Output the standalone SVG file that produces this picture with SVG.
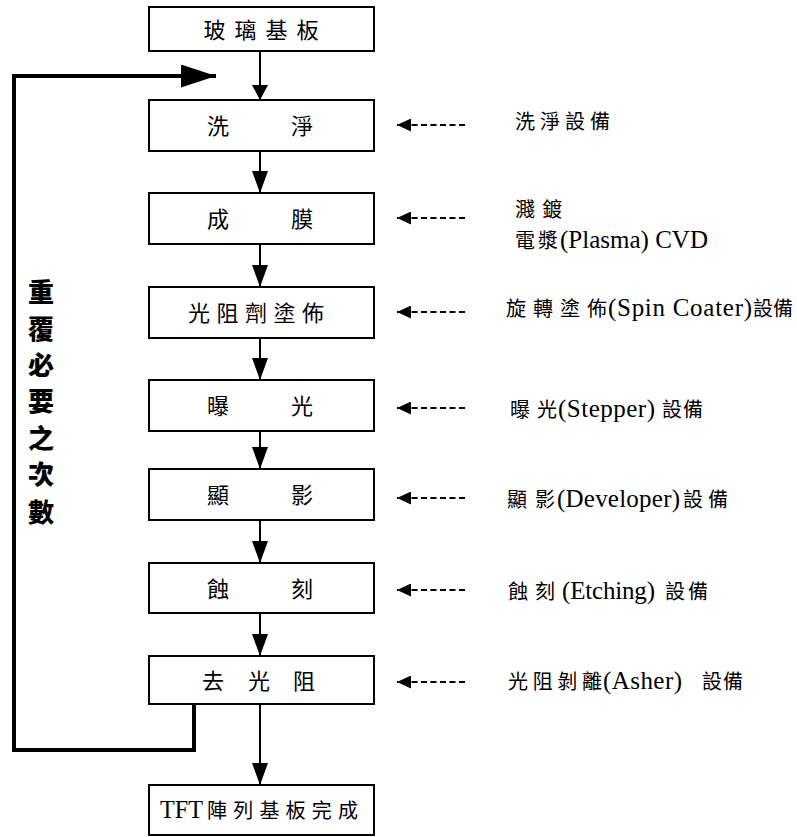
<svg xmlns="http://www.w3.org/2000/svg" width="797" height="837" viewBox="0 0 797 837">
<style>
.box{fill:#fff;stroke:#000;stroke-width:2}
.lbl{font-family:"Noto Sans CJK TC",sans-serif;font-size:22px;fill:#000;text-anchor:middle}
.lat{font-family:"Liberation Serif","Times New Roman",Tinos,"DejaVu Serif",serif;font-size:25px;fill:#000}
.cjk{font-family:"Noto Sans CJK TC",sans-serif;font-size:20px;fill:#000}
.flow{stroke:#000;stroke-width:2;fill:none}
.dash{stroke:#000;stroke-width:2;stroke-dasharray:6 3.5;fill:none}
.loop{stroke:#000;stroke-width:4;fill:none;stroke-linejoin:miter}
.side{font-family:"Noto Sans CJK TC",sans-serif;font-size:26px;font-weight:900;fill:#000;text-anchor:middle;dominant-baseline:central}
</style>
<defs>
<marker id="ah" viewBox="0 0 22 16" refX="22" refY="8" markerWidth="22" markerHeight="16" markerUnits="userSpaceOnUse" orient="auto"><path d="M0,0 L22,8 L0,16 z" fill="#000"/></marker>
<marker id="ah1" viewBox="0 0 15 16" refX="15" refY="8" markerWidth="15" markerHeight="16" markerUnits="userSpaceOnUse" orient="auto"><path d="M0,0 L15,8 L0,16 z" fill="#000"/></marker>
<marker id="dh" viewBox="0 0 14 13" refX="14" refY="6.5" markerWidth="14" markerHeight="13" markerUnits="userSpaceOnUse" orient="auto"><path d="M0,0 L14,6.5 L0,13 z" fill="#000"/></marker>
<marker id="lh" viewBox="0 0 35 23" refX="35" refY="11.5" markerWidth="35" markerHeight="23" markerUnits="userSpaceOnUse" orient="auto"><path d="M0,0 L35,11.5 L0,23 z" fill="#000"/></marker>
</defs>

<g id="connectors">
<line class="flow" x1="260" y1="51" x2="260" y2="100" marker-end="url(#ah1)"/>
<line class="flow" x1="260" y1="151" x2="260" y2="193" marker-end="url(#ah)"/>
<line class="flow" x1="260" y1="244" x2="260" y2="287" marker-end="url(#ah)"/>
<line class="flow" x1="260" y1="338" x2="260" y2="380" marker-end="url(#ah)"/>
<line class="flow" x1="260" y1="431" x2="260" y2="469" marker-end="url(#ah)"/>
<line class="flow" x1="260" y1="520" x2="260" y2="563" marker-end="url(#ah)"/>
<line class="flow" x1="260" y1="613" x2="260" y2="656" marker-end="url(#ah)"/>
<line class="flow" x1="260" y1="704" x2="260" y2="785" marker-end="url(#ah)"/>
<path class="loop" d="M194,704 L194,750 L14,750 L14,76 L216,76" marker-end="url(#lh)"/>
<line class="dash" x1="465" y1="125" x2="397" y2="125" marker-end="url(#dh)"/>
<line class="dash" x1="465" y1="218" x2="397" y2="218" marker-end="url(#dh)"/>
<line class="dash" x1="465" y1="312" x2="397" y2="312" marker-end="url(#dh)"/>
<line class="dash" x1="465" y1="408" x2="397" y2="408" marker-end="url(#dh)"/>
<line class="dash" x1="465" y1="498" x2="397" y2="498" marker-end="url(#dh)"/>
<line class="dash" x1="465" y1="590" x2="397" y2="590" marker-end="url(#dh)"/>
<line class="dash" x1="465" y1="682" x2="397" y2="682" marker-end="url(#dh)"/>
</g>

<g id="n-glass"><rect class="box" x="149" y="7" width="225" height="44"/><text class="lbl" x="261" y="38" textLength="115" lengthAdjust="spacing">玻璃基板</text></g>
<g id="n-clean"><rect class="box" x="149" y="100" width="225" height="51"/><text class="lbl" x="218" y="134">洗</text><text class="lbl" x="302" y="134">淨</text></g>
<g id="n-film"><rect class="box" x="149" y="193" width="225" height="51"/><text class="lbl" x="218" y="227">成</text><text class="lbl" x="302" y="227">膜</text></g>
<g id="n-coat"><rect class="box" x="149" y="287" width="225" height="51"/><text class="lbl" x="256" y="321" textLength="136" lengthAdjust="spacing">光阻劑塗佈</text></g>
<g id="n-expose"><rect class="box" x="149" y="380" width="225" height="51"/><text class="lbl" x="218" y="414">曝</text><text class="lbl" x="302" y="414">光</text></g>
<g id="n-develop"><rect class="box" x="149" y="469" width="225" height="51"/><text class="lbl" x="218" y="503">顯</text><text class="lbl" x="302" y="503">影</text></g>
<g id="n-etch"><rect class="box" x="149" y="563" width="225" height="50"/><text class="lbl" x="218" y="596.5">蝕</text><text class="lbl" x="302" y="596.5">刻</text></g>
<g id="n-strip"><rect class="box" x="149" y="656" width="225" height="48"/><text class="lbl" x="213" y="688.5">去</text><text class="lbl" x="259" y="688.5">光</text><text class="lbl" x="304" y="688.5">阻</text></g>
<g id="n-done"><rect class="box" x="149" y="785" width="225" height="50"/><text class="lat" x="160" y="818" font-size="23" textLength="43" lengthAdjust="spacingAndGlyphs">TFT</text><text class="cjk" x="207" y="818" font-size="22" textLength="151" lengthAdjust="spacing">陣列基板完成</text></g>

<g id="equipment">
<text class="cjk" x="515" y="129" textLength="95" lengthAdjust="spacing">洗淨設備</text>
<text class="cjk" x="515" y="217" textLength="47" lengthAdjust="spacing">濺鍍</text>
<text class="cjk" x="515" y="248" textLength="43" lengthAdjust="spacing">電漿</text>
<text class="lat" x="560" y="248" textLength="148" lengthAdjust="spacing">(Plasma) CVD</text>
<text class="cjk" x="506" y="316" textLength="101" lengthAdjust="spacing">旋轉塗佈</text>
<text class="lat" x="608" y="316" textLength="144" lengthAdjust="spacing">(Spin Coater)</text>
<text class="cjk" x="753" y="316" textLength="40" lengthAdjust="spacing">設備</text>
<text class="cjk" x="510" y="417" textLength="47" lengthAdjust="spacing">曝光</text>
<text class="lat" x="558" y="417" textLength="97" lengthAdjust="spacing">(Stepper)</text>
<text class="cjk" x="662" y="417" textLength="41" lengthAdjust="spacing">設備</text>
<text class="cjk" x="507" y="507" textLength="48" lengthAdjust="spacing">顯影</text>
<text class="lat" x="557" y="507" textLength="123" lengthAdjust="spacing">(Developer)</text>
<text class="cjk" x="683" y="507" textLength="45" lengthAdjust="spacing">設備</text>
<text class="cjk" x="508" y="599" textLength="47" lengthAdjust="spacing">蝕刻</text>
<text class="lat" x="562" y="599" textLength="93" lengthAdjust="spacing">(Etching)</text>
<text class="cjk" x="665" y="599" textLength="43" lengthAdjust="spacing">設備</text>
<text class="cjk" x="508" y="689" textLength="94" lengthAdjust="spacing">光阻剝離</text>
<text class="lat" x="603" y="689" textLength="79" lengthAdjust="spacing">(Asher)</text>
<text class="cjk" x="702" y="689" textLength="41" lengthAdjust="spacing">設備</text>
</g>

<g id="loop-label">
<text class="side" x="41" y="290">重</text>
<text class="side" x="41" y="327">覆</text>
<text class="side" x="41" y="363">必</text>
<text class="side" x="41" y="399">要</text>
<text class="side" x="41" y="436">之</text>
<text class="side" x="41" y="472">次</text>
<text class="side" x="41" y="510">數</text>
</g>
</svg>
